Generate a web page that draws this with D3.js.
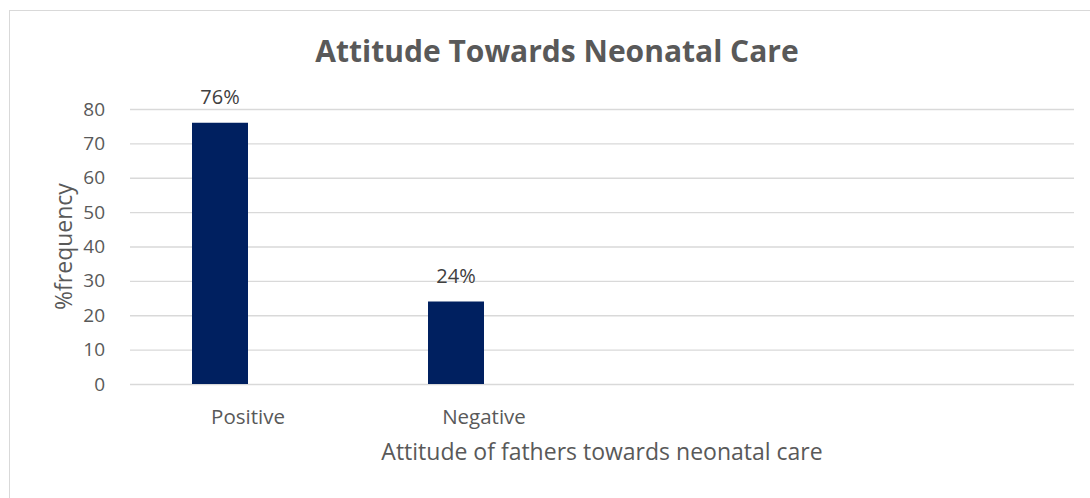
<!DOCTYPE html>
<html>
<head>
<meta charset="utf-8">
<script src="https://cdn.jsdelivr.net/npm/d3@7"></script>
<style>
  body { margin: 0; background: #fff; }
  svg { display: block; font-family: "Open Sans", sans-serif; }
</style>
</head>
<body>
<div id="chart"></div>
<script>
// chart data
var categories = ["Positive", "Negative", "", ""]; // last two slots are empty in the original
var seriesNames = ["Attitude", "Blank"];
var attitudeValues = [76, 24, null, null];
var blankValues = [null, null, null, null];
var yTicks = [0, 10, 20, 30, 40, 50, 60, 70, 80];

var chartTitle = "Attitude Towards Neonatal Care";
var xTitle = "Attitude of fathers towards neonatal care";
var yTitle = "%frequency";

function init(){
    var w = 1090; // width of svg
    var h = 498;  // height of svg
    var left = 130, right = 1074, top = 109, bottom = 384; // plot area

    var svg = d3.select("#chart")
        .append("svg")
        .attr("width", w)
        .attr("height", h);

    // chart border (runs off the right and bottom edges)
    svg.append("rect")
        .attr("x", 9.5).attr("y", 10.5)
        .attr("width", 1094).attr("height", 500)
        .attr("fill", "none")
        .attr("stroke", "#d9d9d9");

    var yScale = d3.scaleLinear()
        .domain([0, 80])
        .range([bottom, top]);

    var pad = 124 / 236;
    var x0 = d3.scaleBand()
        .domain(d3.range(categories.length))
        .range([left, right])
        .paddingInner(pad)
        .paddingOuter(pad / 2);

    var x1 = d3.scaleBand()
        .domain(seriesNames)
        .range([0, x0.bandwidth()]);

    // y axis + gridlines
    var yAxis = d3.axisLeft(yScale)
        .tickValues(yTicks)
        .tickSize(-(right - left))
        .tickPadding(25);

    var gy = svg.append("g")
        .attr("transform", `translate(${left},0)`)
        .call(yAxis);
    gy.select(".domain").remove();
    gy.selectAll(".tick line")
        .attr("stroke", "#d9d9d9")
        .attr("stroke-width", 1.3);
    gy.selectAll(".tick text")
        .attr("fill", "#595959")
        .style("font-size", "19px")
        .style("font-family", "'Open Sans', sans-serif");

    // x axis (labels only)
    var xAxis = d3.axisBottom(x0)
        .tickSize(0)
        .tickFormat(function(i) { return categories[i]; });

    var gx = svg.append("g")
        .attr("transform", `translate(0,${bottom})`)
        .call(xAxis);
    gx.select(".domain").remove();
    gx.selectAll(".tick text")
        .attr("y", 40)
        .attr("dy", 0)
        .attr("fill", "#595959")
        .style("font-size", "20.5px")
        .style("font-family", "'Open Sans', sans-serif");

    // bars
    var rows = categories.map(function(c, i) {
        return [
            {series: seriesNames[0], i: i, value: attitudeValues[i]},
            {series: seriesNames[1], i: i, value: blankValues[i]}
        ];
    });
    var bars = rows.flat().filter(function(d) { return d.value != null; });

    svg.selectAll(".bar")
        .data(bars)
        .enter()
        .append("rect")
        .attr("class", "bar")
        .attr("x", function(d) { return x0(d.i) + x1(d.series); })
        .attr("y", function(d) { return yScale(d.value); })
        .attr("width", x1.bandwidth())
        .attr("height", function(d) { return yScale(0) - yScale(d.value); })
        .attr("fill", "#002060");

    // data labels
    svg.selectAll(".label")
        .data(bars)
        .enter()
        .append("text")
        .attr("class", "label")
        .attr("x", function(d) { return x0(d.i) + x1(d.series) + x1.bandwidth() / 2; })
        .attr("y", function(d) { return yScale(d.value) - 18.5; })
        .attr("text-anchor", "middle")
        .attr("fill", "#404040")
        .style("font-size", "20px")
        .text(function(d) { return d.value + "%"; });

    // titles
    svg.append("text")
        .attr("x", 557)
        .attr("y", 62)
        .attr("text-anchor", "middle")
        .attr("fill", "#595959")
        .style("font-size", "30px")
        .style("font-weight", "bold")
        .text(chartTitle);

    svg.append("text")
        .attr("x", (left + right) / 2)
        .attr("y", 460)
        .attr("text-anchor", "middle")
        .attr("fill", "#595959")
        .style("font-size", "23px")
        .text(xTitle);

    svg.append("text")
        .attr("transform", `translate(72,${(top + bottom) / 2}) rotate(-90)`)
        .attr("text-anchor", "middle")
        .attr("fill", "#595959")
        .style("font-size", "23px")
        .text(yTitle);
}
window.onload = init;
</script>
</body>
</html>
